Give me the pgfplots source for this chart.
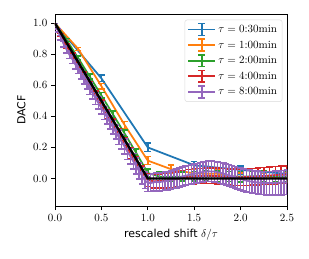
\documentclass[border=0pt]{standalone}
\usepackage{pgfplots}
\pgfplotsset{compat=1.18}
\usepackage{pgfplotstable}
\usepackage{fontspec}
\newfontfamily\dejavu{DejaVu Sans}
\definecolor{c0}{HTML}{1F77B4}
\definecolor{c1}{HTML}{FF7F0E}
\definecolor{c2}{HTML}{2CA02C}
\definecolor{c3}{HTML}{D62728}
\definecolor{c4}{HTML}{9467BD}

\pgfplotstableread{
x y e
0 1.000 0
0.5 0.645 0.020
1.0 0.200 0.027
1.5 0.085 0.025
2.0 0.055 0.025
2.5 0.030 0.026
}\tblue
\pgfplotstableread{
x y e
0 1.0 0
0.25 0.835 0.010
0.5 0.595 0.018
0.75 0.345 0.022
1.0 0.115 0.026
1.25 0.060 0.028
1.5 0.032 0.029
1.75 0.030 0.030
2.0 0.005 0.030
2.25 0.000 0.031
2.5 0.010 0.032
}\torange
\pgfplotstableread{
x y e
0 1.000 0
0.125 0.893 0.010
0.25 0.776 0.013
0.375 0.656 0.016
0.5 0.535 0.018
0.625 0.413 0.020
0.75 0.290 0.022
0.875 0.165 0.024
1.0 0.035 0.026
1.125 0.012 0.028
1.25 0.010 0.029
1.375 0.012 0.030
1.5 0.015 0.031
1.625 0.016 0.032
1.75 0.014 0.033
1.875 0.012 0.033
2.0 0.012 0.034
2.125 0.014 0.034
2.25 0.016 0.035
2.375 0.015 0.035
2.5 0.012 0.036
}\tgreen
\pgfplotstableread{
x y e
0 1.000 0
0.0625 0.925 0.010
0.125 0.853 0.015
0.1875 0.790 0.018
0.25 0.727 0.020
0.3125 0.663 0.022
0.375 0.601 0.024
0.4375 0.538 0.026
0.5 0.476 0.028
0.5625 0.413 0.030
0.625 0.350 0.032
0.6875 0.289 0.033
0.75 0.226 0.035
0.8125 0.163 0.036
0.875 0.101 0.038
0.9375 0.040 0.040
1.0 -0.010 0.042
1.0625 -0.018 0.044
1.125 -0.016 0.045
1.1875 -0.014 0.046
1.25 -0.010 0.047
1.3125 -0.004 0.047
1.375 0.004 0.048
1.4375 0.010 0.048
1.5 0.014 0.049
1.5625 0.016 0.049
1.625 0.018 0.050
1.6875 0.017 0.050
1.75 0.015 0.051
1.8125 0.012 0.051
1.875 0.010 0.052
1.9375 0.008 0.052
2.0 0.008 0.053
2.0625 0.009 0.053
2.125 0.011 0.054
2.1875 0.013 0.054
2.25 0.016 0.055
2.3125 0.019 0.055
2.375 0.022 0.056
2.4375 0.024 0.056
2.5 0.025 0.057
}\tred
\pgfplotstableread{
x y e
0 1.000 0
0.03125 0.954 0.010
0.0625 0.907 0.015
0.09375 0.866 0.020
0.125 0.830 0.022
0.15625 0.797 0.025
0.1875 0.768 0.027
0.21875 0.735 0.029
0.25 0.706 0.031
0.28125 0.672 0.032
0.3125 0.641 0.034
0.34375 0.612 0.035
0.375 0.578 0.036
0.40625 0.548 0.037
0.4375 0.516 0.038
0.46875 0.485 0.039
0.5 0.455 0.040
0.53125 0.422 0.041
0.5625 0.393 0.042
0.59375 0.360 0.043
0.625 0.330 0.044
0.65625 0.298 0.045
0.6875 0.266 0.046
0.71875 0.236 0.047
0.75 0.205 0.048
0.78125 0.172 0.049
0.8125 0.143 0.050
0.84375 0.110 0.050
0.875 0.080 0.051
0.90625 0.048 0.052
0.9375 0.018 0.053
0.96875 -0.012 0.054
1.0 -0.028 0.055
1.03125 -0.030 0.055
1.0625 -0.025 0.056
1.09375 -0.022 0.056
1.125 -0.024 0.057
1.15625 -0.020 0.057
1.1875 -0.018 0.058
1.21875 -0.015 0.058
1.25 -0.010 0.059
1.28125 -0.006 0.059
1.3125 0.000 0.060
1.34375 0.006 0.060
1.375 0.012 0.061
1.40625 0.018 0.061
1.4375 0.022 0.062
1.46875 0.027 0.062
1.5 0.030 0.063
1.53125 0.034 0.063
1.5625 0.038 0.064
1.59375 0.042 0.064
1.625 0.044 0.065
1.65625 0.046 0.065
1.6875 0.045 0.066
1.71875 0.044 0.066
1.75 0.040 0.067
1.78125 0.036 0.067
1.8125 0.032 0.068
1.84375 0.026 0.068
1.875 0.020 0.069
1.90625 0.014 0.069
1.9375 0.008 0.070
1.96875 0.002 0.070
2.0 -0.004 0.071
2.03125 -0.009 0.071
2.0625 -0.014 0.072
2.09375 -0.018 0.072
2.125 -0.021 0.073
2.15625 -0.024 0.073
2.1875 -0.026 0.074
2.21875 -0.028 0.074
2.25 -0.029 0.075
2.28125 -0.030 0.075
2.3125 -0.030 0.076
2.34375 -0.030 0.076
2.375 -0.029 0.077
2.40625 -0.028 0.077
2.4375 -0.027 0.078
2.46875 -0.026 0.078
2.5 -0.025 0.079
}\tpurple

\begin{document}
\begin{tikzpicture}
\begin{axis}[
  scale only axis,
  width=211pt, height=175pt,
  xmin=0, xmax=2.5, ymin=-0.18, ymax=1.06,
  xtick={0,0.5,1.0,1.5,2.0,2.5},
  ytick={0,0.2,0.4,0.6,0.8,1.0},
  xticklabel style={/pgf/number format/.cd, fixed, fixed zerofill, precision=1},
  yticklabel style={/pgf/number format/.cd, fixed, fixed zerofill, precision=1},
  tick align=outside,
  xtick pos=bottom, ytick pos=left,
  major tick length=3.5pt,
  axis line style={line width=0.8pt},
  tick style={line width=0.8pt, black},
  xlabel={\dejavu rescaled shift $\delta/\tau$},
  ylabel={\dejavu DACF},
  legend style={at={(0.98,0.97)}, anchor=north east, draw=black!15, rounded corners=2pt, fill=white, fill opacity=0.85, text opacity=1, row sep=1.6pt, inner sep=2.5pt, nodes={inner sep=2.2pt}},
  legend cell align=left,
  legend image code/.code={
    \draw[#1, mark=none, line width=1.6pt] (0cm,0cm) -- (0.85cm,0cm);
    \draw[#1, mark=none, line width=1.4pt] (0.425cm,-0.19cm) -- (0.425cm,0.19cm);
    \draw[#1, mark=none, line width=1.4pt] (0.32cm,0.19cm) -- (0.53cm,0.19cm);
    \draw[#1, mark=none, line width=1.4pt] (0.32cm,-0.19cm) -- (0.53cm,-0.19cm);
  },
  every axis plot/.append style={line width=1.6pt, mark=none},
  error bars/y dir=both,
  error bars/y explicit,
  error bars/error bar style={line width=1.4pt},
  error bars/error mark options={line width=1.4pt, mark size=3pt, rotate=90},
]
\addplot[c0] table[x=x, y=y, y error=e] {\tblue};
\addlegendentry{$\tau=0$:30min}
\addplot[c1] table[x=x, y=y, y error=e] {\torange};
\addlegendentry{$\tau=1$:00min}
\addplot[c2] table[x=x, y=y, y error=e] {\tgreen};
\addlegendentry{$\tau=2$:00min}
\addplot[c3] table[x=x, y=y, y error=e] {\tred};
\addlegendentry{$\tau=4$:00min}
\addplot[c4] table[x=x, y=y, y error=e] {\tpurple};
\addlegendentry{$\tau=8$:00min}
\addplot[black, line width=2.2pt, mark=none, forget plot, error bars/y dir=none] coordinates {(0,1) (1,0) (2.5,0)};
\end{axis}
\path ([shift={(-50pt,-47pt)}]current axis.south west) rectangle ([shift={(20pt,12.7pt)}]current axis.north east);
\end{tikzpicture}
\end{document}
